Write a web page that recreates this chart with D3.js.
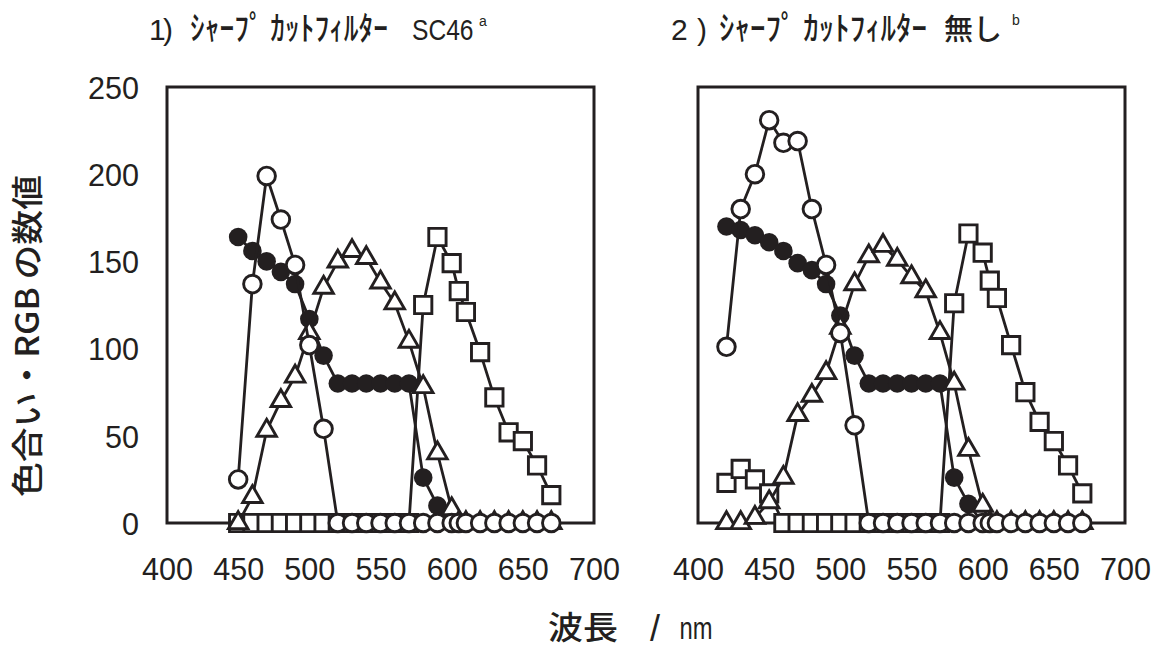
<!DOCTYPE html>
<html>
<head>
<meta charset="utf-8">
<script src="https://cdn.jsdelivr.net/npm/d3@7/dist/d3.min.js"></script>
<style>
  body { margin: 0; background: #fff; }
  svg { display: block; }
</style>
</head>
<body>
<svg id="chart" width="1155" height="649"></svg>
<script>
// Wavelengths (nm) sampled in each measurement
const wavelengths1 = [450,460,470,480,490,500,510,520,530,540,550,560,570,580,590,600,605,610,620,630,640,650,660,670];
const wavelengths2 = [420,430,440,450,460,470,480,490,500,510,520,530,540,550,560,570,580,590,600,605,610,620,630,640,650,660,670];

// 1) with sharp-cut filter SC46
const hue1   = [164,156,150,144,137,117,96,80,80,80,80,80,80,26,10,0,0,0,0,0,0,0,0,0];
const red1   = [0,0,0,0,0,0,0,0,0,0,0,0,0,125,164,149,133,121,98,72,52,47,33,16];
const green1 = [0,15,53,70,84,109,135,150,156,152,138,126,104,78,40,8,0,0,0,0,0,0,0,0];
const blue1  = [25,137,199,174,148,102,54,0,0,0,0,0,0,0,0,0,0,0,0,0,0,0,0,0];

// 2) without filter
const hue2   = [170,168,165,161,156,149,145,137,119,96,80,80,80,80,80,80,26,11,0,0,0,0,0,0,0,0,0];
const red2   = [23,31,25,17,0,0,0,0,0,0,0,0,0,0,0,0,126,166,155,139,129,102,75,58,47,33,17];
const green2 = [0,0,3,12,26,62,73,86,112,137,153,159,151,141,133,109,80,42,10,0,0,0,0,0,0,0,0];
const blue2  = [101,180,200,231,218,219,180,148,109,56,0,0,0,0,0,0,0,0,0,0,0,0,0,0,0,0,0];

// Axis ticks
const xTicks = [400,450,500,550,600,650,700];
const yTicks = [0,50,100,150,200,250];

const ink = "#231f20";
const latin = "'Liberation Sans', Arial, sans-serif";
const jp = "'Noto Sans CJK JP', sans-serif";
const svg = d3.select("#chart");

const y = d3.scaleLinear().domain([0, 250]).range([523, 87]);

function fitWidth(label) {
  return label.length === 3 ? 51 : label.length === 2 ? 34 : 17;
}

function drawPanel(opt) {
  const x = d3.scaleLinear().domain([400, 700]).range([opt.x0, opt.x1]);
  const g = svg.append("g");

  // plot frame
  g.append("rect")
    .attr("x", opt.x0).attr("y", y(250))
    .attr("width", opt.x1 - opt.x0).attr("height", y(0) - y(250))
    .attr("fill", "none").attr("stroke", ink).attr("stroke-width", 3);

  // x axis labels
  const xa = g.append("g").attr("transform", `translate(0,${y(0)})`)
    .call(d3.axisBottom(x).tickValues(xTicks).tickSize(0).tickPadding(0));
  xa.select(".domain").remove();
  xa.selectAll("text")
    .attr("y", 45.5).attr("dy", "0.35em")
    .attr("font-family", latin)
    .attr("font-size", 32).attr("fill", ink)
    .attr("textLength", d => fitWidth(String(d)))
    .attr("lengthAdjust", "spacingAndGlyphs");

  if (opt.yLabels) {
    const ya = g.append("g").attr("transform", `translate(${opt.x0},0)`)
      .call(d3.axisLeft(y).tickValues(yTicks).tickSize(0).tickPadding(0));
    ya.select(".domain").remove();
    ya.selectAll("text")
      .attr("x", -28).attr("dy", "0.35em")
      .attr("font-family", latin)
      .attr("font-size", 32).attr("fill", ink)
      .attr("textLength", d => fitWidth(String(d)))
      .attr("lengthAdjust", "spacingAndGlyphs");
  }

  const line = d3.line().x(d => x(d.w)).y(d => y(d.v));

  opt.series.forEach(s => {
    const pts = opt.wl.map((w, i) => ({ w, v: s.values[i] }));
    const sg = g.append("g");
    sg.append("path").datum(pts)
      .attr("d", line).attr("fill", "none")
      .attr("stroke", ink).attr("stroke-width", 2.8).attr("stroke-linejoin", "round");

    if (s.shape === "filled" || s.shape === "open") {
      sg.selectAll("circle").data(pts).join("circle")
        .attr("cx", d => x(d.w)).attr("cy", d => y(d.v))
        .attr("r", s.shape === "filled" ? 9.3 : 8.8)
        .attr("fill", s.shape === "filled" ? ink : "#fff")
        .attr("stroke", ink).attr("stroke-width", s.shape === "filled" ? 0 : 2.9);
    } else {
      const sym = s.shape === "square"
        ? d3.symbol(d3.symbolSquare, 17.3 * 17.3)
        : d3.symbol(d3.symbolTriangle, 19.5 * 19.5 * Math.sqrt(3) / 4);
      sg.selectAll("path.mk").data(pts).join("path")
        .attr("class", "mk")
        .attr("d", sym)
        .attr("transform", d => `translate(${x(d.w)},${y(d.v)})`)
        .attr("fill", "#fff").attr("stroke", ink).attr("stroke-width", 2.9)
        .attr("stroke-linejoin", "miter");
    }
  });

  // panel title
  const t = opt.title;
  g.append("text").attr("x", t.x).attr("y", 40).text(t.num)
    .attr("font-family", latin).attr("font-size", 30).attr("fill", ink)
    .attr("textLength", t.numW).attr("lengthAdjust", "spacing");
  g.append("text").attr("x", t.kx).attr("y", 40).text("ｼｬｰﾌﾟ ｶｯﾄﾌｨﾙﾀｰ")
    .attr("font-family", jp).attr("font-size", 33).attr("font-weight", 500).attr("fill", ink)
    .attr("textLength", t.kw).attr("lengthAdjust", "spacingAndGlyphs");
  // suffix narrowed horizontally with a scale transform
  g.append("text")
    .attr("transform", `translate(${t.sx},40) scale(${t.sScale},1)`)
    .text(t.suffix)
    .attr("font-family", t.suffixFont).attr("font-size", t.suffixSize).attr("fill", ink)
    .attr("font-weight", t.suffixWeight);
  g.append("text").attr("x", t.supX).attr("y", t.supY).text(t.sup)
    .attr("font-family", latin)
    .attr("font-size", 14).attr("fill", ink);
}

drawPanel({
  x0: 167, x1: 594, yLabels: true, wl: wavelengths1,
  series: [
    { shape: "filled",   values: hue1 },
    { shape: "square",   values: red1 },
    { shape: "triangle", values: green1 },
    { shape: "open",     values: blue1 }
  ],
  title: { x: 149, num: "1)", numW: 24, kx: 190, kw: 198,
           sx: 412, suffix: "SC46", suffixFont: latin, suffixWeight: 400,
           suffixSize: 30, sScale: 0.82, sup: "a", supX: 479, supY: 26 }
});

drawPanel({
  x0: 698, x1: 1125, yLabels: false, wl: wavelengths2,
  series: [
    { shape: "filled",   values: hue2 },
    { shape: "square",   values: red2 },
    { shape: "triangle", values: green2 },
    { shape: "open",     values: blue2 }
  ],
  title: { x: 671, num: "2)", numW: 36, kx: 719, kw: 208,
           sx: 944, suffix: "無し", suffixFont: jp, suffixWeight: 500,
           suffixSize: 29, sScale: 1.0, sup: "b", supX: 1012, supY: 25 }
});

// y axis title
svg.append("text")
  .attr("transform", "translate(28,336) rotate(-90)")
  .attr("text-anchor", "middle").attr("dy", "0.35em")
  .attr("font-family", jp).attr("font-weight", 500)
  .attr("font-size", 32).attr("fill", ink)
  .attr("textLength", 322).attr("lengthAdjust", "spacingAndGlyphs")
  .text("色合い・RGB の数値");

// x axis title: "波長 / nm"
const xTitle = [
  { s: "波長", cx: 583, w: 70, font: jp, weight: 500, size: 32 },
  { s: "/",    cx: 655, w: null, font: latin, weight: 400, size: 36 },
  { s: "nm",   cx: 696, w: 33, font: latin, weight: 400, size: 32 }
];
svg.selectAll("text.xtitle").data(xTitle).join("text")
  .attr("class", "xtitle")
  .attr("x", d => d.cx).attr("y", 628)
  .attr("text-anchor", "middle").attr("dy", "0.35em")
  .attr("font-family", d => d.font).attr("font-weight", d => d.weight)
  .attr("font-size", d => d.size).attr("fill", ink)
  .attr("textLength", d => d.w)
  .attr("lengthAdjust", "spacingAndGlyphs")
  .text(d => d.s);
</script>
</body>
</html>
